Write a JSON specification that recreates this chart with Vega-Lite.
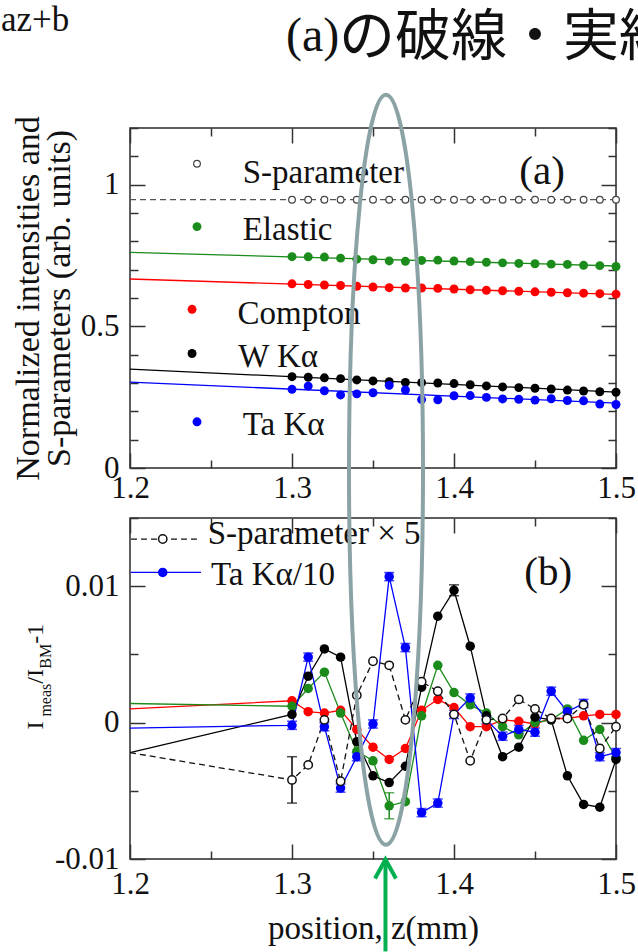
{
  "$schema": "https://vega.github.io/schema/vega-lite/v6.json",
  "padding": {"top": 2, "left": 0, "right": 0, "bottom": 0},
  "background": "white",
  "spacing": 50,
  "bounds": "flush",
  "config": {
    "view": {"stroke": "#2a2a2a", "strokeWidth": 1.5},
    "axis": {"domain": false, "grid": false, "labelFont": "Liberation Serif", "labelFontSize": 31, "labelColor": "#111111", "tickColor": "#333333", "tickWidth": 1.5, "titleFont": "Liberation Serif", "titleFontWeight": "normal", "titleColor": "#111111", "labelOverlap": false, "labelFlush": false, "labelBound": false}
  },
  "datasets": {
    "a_pts": [
      {"z":1.3,"E":0.7459,"C":0.65,"W":0.3222,"T":0.2777,"S":0.947},
      {"z":1.31,"E":0.7453,"C":0.6477,"W":0.3204,"T":0.289,"S":0.947},
      {"z":1.32,"E":0.7445,"C":0.6459,"W":0.3183,"T":0.2726,"S":0.947},
      {"z":1.33,"E":0.7407,"C":0.6442,"W":0.3154,"T":0.2579,"S":0.947},
      {"z":1.34,"E":0.737,"C":0.6415,"W":0.3108,"T":0.2617,"S":0.947},
      {"z":1.35,"E":0.7349,"C":0.6388,"W":0.3073,"T":0.2657,"S":0.947},
      {"z":1.36,"E":0.7309,"C":0.6365,"W":0.3045,"T":0.2917,"S":0.947},
      {"z":1.37,"E":0.7295,"C":0.6352,"W":0.3021,"T":0.2754,"S":0.947},
      {"z":1.38,"E":0.7326,"C":0.6352,"W":0.3012,"T":0.2415,"S":0.947},
      {"z":1.39,"E":0.7337,"C":0.6339,"W":0.3,"T":0.241,"S":0.947},
      {"z":1.4,"E":0.7306,"C":0.6317,"W":0.2979,"T":0.2551,"S":0.947},
      {"z":1.41,"E":0.7283,"C":0.629,"W":0.2939,"T":0.2557,"S":0.947},
      {"z":1.42,"E":0.7263,"C":0.6272,"W":0.2897,"T":0.2492,"S":0.947},
      {"z":1.43,"E":0.724,"C":0.6257,"W":0.2862,"T":0.2437,"S":0.947},
      {"z":1.44,"E":0.7219,"C":0.6239,"W":0.2837,"T":0.2426,"S":0.947},
      {"z":1.45,"E":0.721,"C":0.6219,"W":0.2816,"T":0.2396,"S":0.947},
      {"z":1.46,"E":0.7195,"C":0.6204,"W":0.2789,"T":0.2443,"S":0.947},
      {"z":1.47,"E":0.7185,"C":0.6186,"W":0.275,"T":0.2383,"S":0.947},
      {"z":1.48,"E":0.7153,"C":0.6169,"W":0.2718,"T":0.2372,"S":0.947},
      {"z":1.49,"E":0.7142,"C":0.6152,"W":0.269,"T":0.2256,"S":0.947},
      {"z":1.5,"E":0.7111,"C":0.6134,"W":0.2673,"T":0.224,"S":0.947}
    ],
    "a_fit": [
      {"s":"E","z":1.2,"v":0.761},{"s":"E","z":1.5,"v":0.713},
      {"s":"C","z":1.2,"v":0.667},{"s":"C","z":1.5,"v":0.613},
      {"s":"W","z":1.2,"v":0.349},{"s":"W","z":1.5,"v":0.268},
      {"s":"T","z":1.2,"v":0.303},{"s":"T","z":1.5,"v":0.229},
      {"s":"S","z":1.2,"v":0.947},{"s":"S","z":1.5,"v":0.947}
    ],
    "b_pts": [
      {"z":1.2,"E":0.0014,"C":0.001,"W":-0.0022,"T":-0.0004,"S":-0.0022},
      {"z":1.3,"E":0.0012,"C":0.0016,"W":0.0006,"T":-0.0002,"S":-0.0042},
      {"z":1.31,"E":0.0025,"C":0.0008,"W":0.0034,"T":0.0048,"S":-0.0031},
      {"z":1.32,"E":0.0037,"C":0.0007,"W":0.0054,"T":-0.0003,"S":0.0002},
      {"z":1.33,"E":0.0007,"C":0.0009,"W":0.0048,"T":-0.0048,"S":-0.0043},
      {"z":1.34,"E":-0.0021,"C":-0.0005,"W":-0.0014,"T":-0.0025,"S":0.002},
      {"z":1.35,"E":-0.0028,"C":-0.0018,"W":-0.0039,"T":-0.0001,"S":0.0045},
      {"z":1.36,"E":-0.0061,"C":-0.0027,"W":-0.0044,"T":0.0107,"S":0.0042},
      {"z":1.37,"E":-0.0058,"C":-0.0019,"W":-0.0032,"T":0.0055,"S":0.0002},
      {"z":1.38,"E":0.0005,"C":0.0009,"W":0.0026,"T":-0.0066,"S":0.003},
      {"z":1.39,"E":0.0042,"C":0.0017,"W":0.0078,"T":-0.0059,"S":0.0023},
      {"z":1.4,"E":0.0022,"C":0.0011,"W":0.0097,"T":0.0006,"S":0.0006},
      {"z":1.41,"E":0.0013,"C":-0.0003,"W":0.0056,"T":0.0018,"S":-0.0028},
      {"z":1.42,"E":0.0007,"C":-0.0003,"W":0.0005,"T":0.0002,"S":0.0002},
      {"z":1.43,"E":-0.0003,"C":0.0002,"W":-0.0025,"T":-0.001,"S":0.0003},
      {"z":1.44,"E":-0.0009,"C":0.0001,"W":-0.0018,"T":-0.0005,"S":0.0017},
      {"z":1.45,"E":0.0,"C":-0.0001,"W":0.0004,"T":-0.0007,"S":0.001},
      {"z":1.46,"E":0.0002,"C":0.0003,"W":0.0002,"T":0.0023,"S":0.0003},
      {"z":1.47,"E":0.001,"C":0.0003,"W":-0.0039,"T":0.0008,"S":0.0003},
      {"z":1.48,"E":-0.0013,"C":0.0005,"W":-0.006,"T":0.0014,"S":0.0013},
      {"z":1.49,"E":-0.0005,"C":0.0006,"W":-0.0062,"T":-0.0025,"S":-0.0019},
      {"z":1.5,"E":-0.0026,"C":0.0006,"W":-0.0027,"T":-0.0022,"S":-0.0003}
    ],
    "b_err": [
      {"s":"S","z":1.3,"v":-0.0042,"e":0.0017},
      {"s":"E","z":1.36,"v":-0.0061,"e":0.00095},
      {"s":"W","z":1.4,"v":0.0097,"e":0.0004},
      {"s":"T","z":1.3,"v":-0.0002,"e":0.0003},
      {"s":"T","z":1.31,"v":0.0048,"e":0.0003},
      {"s":"T","z":1.32,"v":-0.0003,"e":0.0003},
      {"s":"T","z":1.33,"v":-0.0048,"e":0.0003},
      {"s":"T","z":1.34,"v":-0.0025,"e":0.0003},
      {"s":"T","z":1.35,"v":-0.0001,"e":0.0003},
      {"s":"T","z":1.36,"v":0.0107,"e":0.0003},
      {"s":"T","z":1.37,"v":0.0055,"e":0.0003},
      {"s":"T","z":1.38,"v":-0.0066,"e":0.0003},
      {"s":"T","z":1.39,"v":-0.0059,"e":0.0003},
      {"s":"T","z":1.4,"v":0.0006,"e":0.0003},
      {"s":"T","z":1.41,"v":0.0018,"e":0.0003},
      {"s":"T","z":1.42,"v":0.0002,"e":0.0003},
      {"s":"T","z":1.43,"v":-0.001,"e":0.0003},
      {"s":"T","z":1.44,"v":-0.0005,"e":0.0003},
      {"s":"T","z":1.45,"v":-0.0007,"e":0.0003},
      {"s":"T","z":1.46,"v":0.0023,"e":0.0003},
      {"s":"T","z":1.47,"v":0.0008,"e":0.0003},
      {"s":"T","z":1.48,"v":0.0014,"e":0.0003},
      {"s":"T","z":1.49,"v":-0.0025,"e":0.0003},
      {"s":"T","z":1.5,"v":-0.0022,"e":0.0003}
    ]
  },
  "vconcat": [
    {
      "width": 486,
      "height": 340,
      "resolve": {"axis": {"x": "independent", "y": "independent"}},
      "layer": [
        {
          "data": {"name": "a_fit"},
          "transform": [{"filter": "datum.s != 'S'"}],
          "mark": {"type": "line", "strokeWidth": 1.3},
          "encoding": {
            "x": {"field": "z", "type": "quantitative", "scale": {"domain": [1.2, 1.5], "nice": false, "zero": false},
              "axis": {"orient": "bottom", "values": [1.2,1.25,1.3,1.35,1.4,1.45,1.5], "labelExpr": "indexof([1.2,1.3,1.4,1.5], datum.value) >= 0 ? format(datum.value, '.1f') : ''", "tickSize": {"condition": {"test": "indexof([1.2,1.3,1.4,1.5], datum.value) >= 0", "value": -15}, "value": -8}, "labelPadding": 20, "title": null}},
            "y": {"field": "v", "type": "quantitative", "scale": {"domain": [0, 1.2], "nice": false, "zero": false},
              "axis": {"orient": "left", "values": [0,0.1,0.2,0.3,0.4,0.5,0.6,0.7,0.8,0.9,1,1.1,1.2], "labelExpr": "indexof([0,0.5,1], datum.value) >= 0 ? format(datum.value, '~g') : ''", "tickSize": {"condition": {"test": "indexof([0,0.5,1], datum.value) >= 0", "value": -15}, "value": -8}, "labelPadding": 26, "title": ["Normalized intensities and", "S-parameters (arb. units)"], "titleFontSize": 34, "titleLineHeight": 31, "titlePadding": 4}},
            "color": {"field": "s", "type": "nominal", "scale": {"domain": ["C","E","W","T","S"], "range": ["#ff0000","#1b8c1b","#000000","#0000ff","#000000"]}, "legend": null}
          }
        },
        {
          "data": {"name": "a_fit"},
          "transform": [{"filter": "datum.s == 'S'"}],
          "mark": {"type": "line", "strokeWidth": 1.2, "strokeDash": [6, 4], "color": "#555555"},
          "encoding": {
            "x": {"field": "z", "type": "quantitative",
              "axis": {"orient": "top", "values": [1.2,1.25,1.3,1.35,1.4,1.45,1.5], "labels": false, "tickSize": {"condition": {"test": "indexof([1.2,1.3,1.4,1.5], datum.value) >= 0", "value": -15}, "value": -8}, "title": null}},
            "y": {"field": "v", "type": "quantitative",
              "axis": {"orient": "right", "values": [0,0.1,0.2,0.3,0.4,0.5,0.6,0.7,0.8,0.9,1,1.1,1.2], "labels": false, "tickSize": {"condition": {"test": "indexof([0,0.5,1], datum.value) >= 0", "value": -15}, "value": -8}, "title": null}}
          }
        },
        {
          "data": {"name": "a_pts"},
          "transform": [{"fold": ["E","C","W","T"], "as": ["s","v"]}],
          "mark": {"type": "point", "filled": true, "size": 80, "opacity": 1},
          "encoding": {
            "x": {"field": "z", "type": "quantitative", "axis": null},
            "y": {"field": "v", "type": "quantitative", "axis": null},
            "color": {"field": "s", "type": "nominal", "legend": null}
          }
        },
        {
          "data": {"name": "a_pts"},
          "mark": {"type": "point", "filled": true, "fill": "white", "stroke": "#444444", "strokeWidth": 1.2, "size": 45, "opacity": 1},
          "encoding": {
            "x": {"field": "z", "type": "quantitative", "axis": null},
            "y": {"field": "S", "type": "quantitative", "axis": null}
          }
        },
        {"data": {"values": [{}]}, "mark": {"type": "point", "filled": true, "fill": "white", "stroke": "#444444", "strokeWidth": 1.2, "size": 45, "opacity": 1},
         "encoding": {"x": {"datum": 1.24136, "type": "quantitative", "axis": null}, "y": {"datum": 1.074, "type": "quantitative", "axis": null}}},
        {"data": {"values": [{}]}, "mark": {"type": "point", "filled": true, "color": "#1b8c1b", "size": 80, "opacity": 1},
         "encoding": {"x": {"datum": 1.24136, "type": "quantitative", "axis": null}, "y": {"datum": 0.852, "type": "quantitative", "axis": null}}},
        {"data": {"values": [{}]}, "mark": {"type": "point", "filled": true, "color": "#ff0000", "size": 80, "opacity": 1},
         "encoding": {"x": {"datum": 1.2383, "type": "quantitative", "axis": null}, "y": {"datum": 0.56, "type": "quantitative", "axis": null}}},
        {"data": {"values": [{}]}, "mark": {"type": "point", "filled": true, "color": "#000000", "size": 80, "opacity": 1},
         "encoding": {"x": {"datum": 1.2383, "type": "quantitative", "axis": null}, "y": {"datum": 0.404, "type": "quantitative", "axis": null}}},
        {"data": {"values": [{}]}, "mark": {"type": "point", "filled": true, "color": "#0000ff", "size": 80, "opacity": 1},
         "encoding": {"x": {"datum": 1.24136, "type": "quantitative", "axis": null}, "y": {"datum": 0.163, "type": "quantitative", "axis": null}}},
        {"data": {"values": [{}]}, "mark": {"type": "text", "text": "S-parameter", "align": "left", "baseline": "alphabetic", "font": "Liberation Serif", "fontSize": 33, "fill": "#111111"},
         "encoding": {"x": {"datum": 1.26957, "type": "quantitative", "axis": null}, "y": {"datum": 1.006, "type": "quantitative", "axis": null}}},
        {"data": {"values": [{}]}, "mark": {"type": "text", "text": "Elastic", "align": "left", "baseline": "alphabetic", "font": "Liberation Serif", "fontSize": 33, "fill": "#111111"},
         "encoding": {"x": {"datum": 1.26957, "type": "quantitative", "axis": null}, "y": {"datum": 0.8053, "type": "quantitative", "axis": null}}},
        {"data": {"values": [{}]}, "mark": {"type": "text", "text": "Compton", "align": "left", "baseline": "alphabetic", "font": "Liberation Serif", "fontSize": 33, "fill": "#111111"},
         "encoding": {"x": {"datum": 1.2664, "type": "quantitative", "axis": null}, "y": {"datum": 0.5095, "type": "quantitative", "axis": null}}},
        {"data": {"values": [{}]}, "mark": {"type": "text", "text": "W Kα", "align": "left", "baseline": "alphabetic", "font": "Liberation Serif", "fontSize": 33, "fill": "#111111"},
         "encoding": {"x": {"datum": 1.2668, "type": "quantitative", "axis": null}, "y": {"datum": 0.3567, "type": "quantitative", "axis": null}}},
        {"data": {"values": [{}]}, "mark": {"type": "text", "text": "Ta Kα", "align": "left", "baseline": "alphabetic", "font": "Liberation Serif", "fontSize": 33, "fill": "#111111"},
         "encoding": {"x": {"datum": 1.26957, "type": "quantitative", "axis": null}, "y": {"datum": 0.1162, "type": "quantitative", "axis": null}}},
        {"data": {"values": [{}]}, "mark": {"type": "text", "text": "(a)", "align": "left", "baseline": "alphabetic", "font": "Liberation Serif", "fontSize": 41, "fill": "#111111"},
         "encoding": {"x": {"datum": 1.4403, "type": "quantitative", "axis": null}, "y": {"datum": 1.0035, "type": "quantitative", "axis": null}}},
        {"data": {"values": [{}]}, "mark": {"type": "text", "text": "az+b", "align": "left", "baseline": "alphabetic", "font": "Liberation Serif", "fontSize": 35, "fill": "#111111"},
         "encoding": {"x": {"datum": 1.12037, "type": "quantitative", "axis": null}, "y": {"datum": 1.54225, "type": "quantitative", "axis": null}}},
        {"data": {"values": [{}]}, "mark": {"type": "text", "text": "(a)", "align": "left", "baseline": "alphabetic", "font": "Liberation Serif", "fontSize": 48, "fill": "#111111"},
         "encoding": {"x": {"datum": 1.2963, "type": "quantitative", "axis": null}, "y": {"datum": 1.47183, "type": "quantitative", "axis": null}}},
        {"data": {"values": [{}]}, "mark": {"type": "text", "text": "の破線・実線", "align": "left", "baseline": "alphabetic", "font": "Noto Sans CJK JP", "fontSize": 56, "fill": "#111111"},
         "encoding": {"x": {"datum": 1.32901, "type": "quantitative", "axis": null}, "y": {"datum": 1.45775, "type": "quantitative", "axis": null}}}
      ]
    },
    {
      "width": 486,
      "height": 341,
      "resolve": {"axis": {"x": "independent", "y": "independent"}},
      "layer": [
        {
          "data": {"name": "b_pts"},
          "transform": [{"fold": ["C","E","W","T"], "as": ["s","v"]}],
          "mark": {"type": "line", "strokeWidth": 1.3},
          "encoding": {
            "x": {"field": "z", "type": "quantitative", "scale": {"domain": [1.2, 1.5], "nice": false, "zero": false},
              "axis": {"orient": "bottom", "values": [1.2,1.25,1.3,1.35,1.4,1.45,1.5], "labelExpr": "indexof([1.2,1.3,1.4,1.5], datum.value) >= 0 ? format(datum.value, '.1f') : ''", "tickSize": {"condition": {"test": "indexof([1.2,1.3,1.4,1.5], datum.value) >= 0", "value": -15}, "value": -8}, "labelPadding": 25, "title": "position, z(mm)", "titleFontSize": 33, "titlePadding": 6}},
            "y": {"field": "v", "type": "quantitative", "scale": {"domain": [-0.01, 0.015], "nice": false, "zero": false},
              "axis": {"orient": "left", "values": [-0.01,-0.005,0,0.005,0.01,0.015], "labelExpr": "datum.value == 0.01 ? '0.01' : datum.value == 0 ? '0' : datum.value == -0.01 ? '-0.01' : ''", "tickSize": {"condition": {"test": "indexof([-0.01,0,0.01], datum.value) >= 0", "value": -15}, "value": -8}, "labelPadding": 26, "title": null}},
            "color": {"field": "s", "type": "nominal", "scale": {"domain": ["C","E","W","T","S"], "range": ["#ff0000","#1b8c1b","#000000","#0000ff","#000000"]}, "legend": null}
          }
        },
        {
          "data": {"name": "b_pts"},
          "mark": {"type": "line", "strokeWidth": 1.3, "strokeDash": [6, 4], "color": "#111111"},
          "encoding": {
            "x": {"field": "z", "type": "quantitative",
              "axis": {"orient": "top", "values": [1.2,1.25,1.3,1.35,1.4,1.45,1.5], "labels": false, "tickSize": {"condition": {"test": "indexof([1.2,1.3,1.4,1.5], datum.value) >= 0", "value": -15}, "value": -8}, "title": null}},
            "y": {"field": "S", "type": "quantitative",
              "axis": {"orient": "right", "values": [-0.01,-0.005,0,0.005,0.01,0.015], "labels": false, "tickSize": {"condition": {"test": "indexof([-0.01,0,0.01], datum.value) >= 0", "value": -15}, "value": -8}, "title": null}}
          }
        },
        {
          "data": {"name": "b_err"},
          "mark": {"type": "errorbar", "ticks": {"size": 10}, "thickness": 1.5},
          "encoding": {
            "x": {"field": "z", "type": "quantitative", "axis": null},
            "y": {"field": "v", "type": "quantitative", "axis": null},
            "yError": {"field": "e"},
            "color": {"field": "s", "type": "nominal", "legend": null}
          }
        },
        {
          "data": {"name": "b_pts"},
          "transform": [{"fold": ["C","E","W","T"], "as": ["s","v"]}, {"filter": "datum.z > 1.25"}],
          "mark": {"type": "point", "filled": true, "size": 90, "opacity": 1},
          "encoding": {
            "x": {"field": "z", "type": "quantitative", "axis": null},
            "y": {"field": "v", "type": "quantitative", "axis": null},
            "color": {"field": "s", "type": "nominal", "legend": null}
          }
        },
        {
          "data": {"name": "b_pts"},
          "transform": [{"filter": "datum.z > 1.25"}],
          "mark": {"type": "point", "filled": true, "fill": "white", "stroke": "#111111", "strokeWidth": 1.5, "size": 70, "opacity": 1},
          "encoding": {
            "x": {"field": "z", "type": "quantitative", "axis": null},
            "y": {"field": "S", "type": "quantitative", "axis": null}
          }
        },
        {"data": {"values": [{}]}, "mark": {"type": "rule", "stroke": "#111111", "strokeWidth": 1.3, "strokeDash": [6, 4]},
         "encoding": {"x": {"datum": 1.2006, "type": "quantitative", "axis": null}, "x2": {"datum": 1.2438}, "y": {"datum": 0.013458, "type": "quantitative", "axis": null}}},
        {"data": {"values": [{}]}, "mark": {"type": "point", "filled": true, "fill": "white", "stroke": "#111111", "strokeWidth": 1.5, "size": 70, "opacity": 1},
         "encoding": {"x": {"datum": 1.2202, "type": "quantitative", "axis": null}, "y": {"datum": 0.013458, "type": "quantitative", "axis": null}}},
        {"data": {"values": [{}]}, "mark": {"type": "rule", "stroke": "#0000ff", "strokeWidth": 1.3},
         "encoding": {"x": {"datum": 1.2006, "type": "quantitative", "axis": null}, "x2": {"datum": 1.2438}, "y": {"datum": 0.011011, "type": "quantitative", "axis": null}}},
        {"data": {"values": [{}]}, "mark": {"type": "point", "filled": true, "color": "#0000ff", "size": 90, "opacity": 1},
         "encoding": {"x": {"datum": 1.2202, "type": "quantitative", "axis": null}, "y": {"datum": 0.011011, "type": "quantitative", "axis": null}}},
        {"data": {"values": [{}]}, "mark": {"type": "text", "text": "S-parameter × 5", "align": "left", "baseline": "alphabetic", "font": "Liberation Serif", "fontSize": 33, "fill": "#111111"},
         "encoding": {"x": {"datum": 1.248, "type": "quantitative", "axis": null}, "y": {"datum": 0.013092, "type": "quantitative", "axis": null}}},
        {"data": {"values": [{}]}, "mark": {"type": "text", "text": "Ta Kα/10", "align": "left", "baseline": "alphabetic", "font": "Liberation Serif", "fontSize": 33, "fill": "#111111"},
         "encoding": {"x": {"datum": 1.25, "type": "quantitative", "axis": null}, "y": {"datum": 0.01011, "type": "quantitative", "axis": null}}},
        {"data": {"values": [{}]}, "mark": {"type": "text", "text": "(b)", "align": "left", "baseline": "alphabetic", "font": "Liberation Serif", "fontSize": 41, "fill": "#111111"},
         "encoding": {"x": {"datum": 1.4434, "type": "quantitative", "axis": null}, "y": {"datum": 0.01011, "type": "quantitative", "axis": null}}},
        {"data": {"values": [{}]}, "mark": {"type": "text", "text": "I", "angle": 270, "align": "left", "baseline": "alphabetic", "font": "Liberation Serif", "fontSize": 24, "fill": "#111111"},
         "encoding": {"x": {"datum": 1.1463, "type": "quantitative", "axis": null}, "y": {"datum": -0.000513, "type": "quantitative", "axis": null}}},
        {"data": {"values": [{}]}, "mark": {"type": "text", "text": "meas", "angle": 270, "align": "left", "baseline": "alphabetic", "font": "Liberation Serif", "fontSize": 16, "fill": "#111111"},
         "encoding": {"x": {"datum": 1.15123, "type": "quantitative", "axis": null}, "y": {"datum": 0.00044, "type": "quantitative", "axis": null}}},
        {"data": {"values": [{}]}, "mark": {"type": "text", "text": "/I", "angle": 270, "align": "left", "baseline": "alphabetic", "font": "Liberation Serif", "fontSize": 24, "fill": "#111111"},
         "encoding": {"x": {"datum": 1.1463, "type": "quantitative", "axis": null}, "y": {"datum": 0.002857, "type": "quantitative", "axis": null}}},
        {"data": {"values": [{}]}, "mark": {"type": "text", "text": "BM", "angle": 270, "align": "left", "baseline": "alphabetic", "font": "Liberation Serif", "fontSize": 16, "fill": "#111111"},
         "encoding": {"x": {"datum": 1.15123, "type": "quantitative", "axis": null}, "y": {"datum": 0.003956, "type": "quantitative", "axis": null}}},
        {"data": {"values": [{}]}, "mark": {"type": "text", "text": "-1", "angle": 270, "align": "left", "baseline": "alphabetic", "font": "Liberation Serif", "fontSize": 24, "fill": "#111111"},
         "encoding": {"x": {"datum": 1.1463, "type": "quantitative", "axis": null}, "y": {"datum": 0.005788, "type": "quantitative", "axis": null}}},
        {"data": {"values": [{}]}, "mark": {"type": "point", "shape": "M 0,-1 C 0.0545,-1 0.0987,-0.5523 0.0987,0 C 0.0987,0.5523 0.0545,1 0,1 C -0.0545,1 -0.0987,0.5523 -0.0987,0 C -0.0987,-0.5523 -0.0545,-1 0,-1 Z", "size": 562500, "filled": false, "stroke": "#8ca3a5", "strokeWidth": 4, "opacity": 1},
         "encoding": {"x": {"datum": 1.35802, "type": "quantitative", "axis": null}, "y": {"datum": 0.018535, "type": "quantitative", "axis": null}}},
        {"data": {"values": [{}]}, "mark": {"type": "rule", "stroke": "#00b050", "strokeWidth": 4},
         "encoding": {"x": {"datum": 1.3577, "type": "quantitative", "axis": null}, "y": {"datum": -0.016777, "type": "quantitative", "axis": null}, "y2": {"datum": -0.010183}}},
        {"data": {"values": [{}]}, "mark": {"type": "point", "shape": "M -0.55,1 L 0,0 L 0.55,1", "size": 1444, "filled": false, "stroke": "#00b050", "strokeWidth": 4, "opacity": 1},
         "encoding": {"x": {"datum": 1.3577, "type": "quantitative", "axis": null}, "y": {"datum": -0.010037, "type": "quantitative", "axis": null}}}
      ]
    }
  ]
}
